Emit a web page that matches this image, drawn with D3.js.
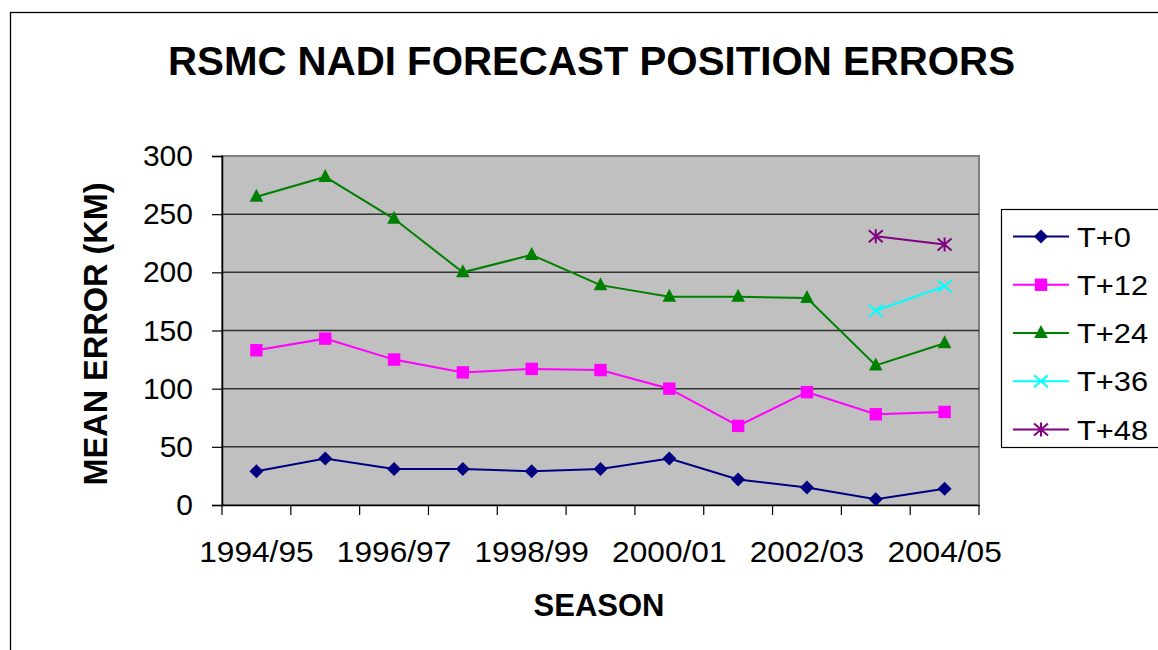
<!DOCTYPE html>
<html>
<head>
<meta charset="utf-8">
<script src="https://cdn.jsdelivr.net/npm/d3@7"></script>
<style>
  html, body { margin: 0; padding: 0; background: #fff; }
  svg { display: block; font-family: "Liberation Sans", Arial, sans-serif; }
</style>
</head>
<body>
<svg id="chart" width="1158" height="650"></svg>
<script>
const seasons = ["1994/95","1995/96","1996/97","1997/98","1998/99","1999/00","2000/01","2001/02","2002/03","2003/04","2004/05"];
const seriesNames = ["T+0","T+12","T+24","T+36","T+48"];
const t0  = [29, 40, 31, 31, 29, 31, 40, 22, 15, 5, 14];
const t12 = [133, 143, 125, 114, 117, 116, 100, 68, 97, 78, 80];
const t24 = [265, 282, 246, 200, 215, 189, 179, 179, 178, 120, 139];
const t36 = [null, null, null, null, null, null, null, null, null, 167, 188];
const t48 = [null, null, null, null, null, null, null, null, null, 231, 224];
const yTicks = [0, 50, 100, 150, 200, 250, 300];

const seriesValues = [t0, t12, t24, t36, t48];
const colors = ["#000080", "#FF00FF", "#008000", "#00FFFF", "#800080"];
const markers = ["diamond", "square", "triangle", "x", "star"];

const svg = d3.select("#chart");
const W = 1158, H = 650;
const plot = {left: 222, right: 979, top: 156, bottom: 505};

// outer chart border
svg.append("rect").attr("x", 10.5).attr("y", 12.5).attr("width", W).attr("height", H)
  .attr("fill", "#fff").attr("stroke", "#000").attr("stroke-width", 1.3);

const x = d3.scaleBand().domain(seasons).range([plot.left, plot.right]).paddingInner(0).paddingOuter(0);
const y = d3.scaleLinear().domain([0, 300]).range([plot.bottom, plot.top]);

// plot background
svg.append("rect").attr("x", plot.left).attr("y", plot.top)
  .attr("width", plot.right - plot.left).attr("height", plot.bottom - plot.top)
  .attr("fill", "#C0C0C0").attr("stroke", "#808080").attr("stroke-width", 2);

// gridlines
svg.append("g").selectAll("line").data(yTicks.filter(d => d > 0 && d < 300)).join("line")
  .attr("x1", plot.left).attr("x2", plot.right)
  .attr("y1", d => y(d)).attr("y2", d => y(d))
  .attr("stroke", "#333").attr("stroke-width", 1.5);

// y axis
const yAxis = svg.append("g").attr("transform", `translate(${plot.left},0)`)
  .call(d3.axisLeft(y).tickValues(yTicks).tickSize(10).tickPadding(19).tickFormat(d3.format("d")));
yAxis.select(".domain").attr("stroke", "#000").attr("stroke-width", 1.5);
yAxis.selectAll(".tick line").attr("stroke", "#000").attr("stroke-width", 1.2);
yAxis.selectAll("text").attr("font-size", 30).attr("fill", "#000").attr("font-family", "Liberation Sans, Arial, sans-serif");

// x axis
const xAxis = svg.append("g").attr("transform", `translate(0,${plot.bottom})`)
  .call(d3.axisBottom(x).tickSize(0).tickPadding(0).tickFormat((d, i) => i % 2 === 0 ? d : ""));
xAxis.select(".domain").attr("stroke", "#000").attr("stroke-width", 1.5);
xAxis.selectAll("text").attr("font-size", 30).attr("fill", "#000")
  .attr("font-family", "Liberation Sans, Arial, sans-serif").attr("dy", 0).attr("y", 56.5)
  .each(function() { const n = this.getComputedTextLength(); if (n > 0) d3.select(this).attr("textLength", n * 1.055).attr("lengthAdjust", "spacingAndGlyphs"); });
const bounds = seasons.map(d => x(d)).concat([plot.right]);
svg.append("g").selectAll("line").data(bounds).join("line")
  .attr("x1", d => d).attr("x2", d => d).attr("y1", plot.bottom).attr("y2", plot.bottom + 10)
  .attr("stroke", "#000").attr("stroke-width", 1.2);

// marker drawing
function drawMarker(g, type, color, cx, cy) {
  if (type === "diamond") {
    g.append("path").attr("d", `M${cx},${cy-7}L${cx+7},${cy}L${cx},${cy+7}L${cx-7},${cy}Z`).attr("fill", color);
  } else if (type === "square") {
    g.append("rect").attr("x", cx - 6.2).attr("y", cy - 6.2).attr("width", 12.4).attr("height", 12.4).attr("fill", color);
  } else if (type === "triangle") {
    g.append("path").attr("d", `M${cx},${cy-8}L${cx+6.8},${cy+5}L${cx-6.8},${cy+5}Z`).attr("fill", color);
  } else if (type === "x") {
    g.append("path").attr("d", `M${cx-7},${cy-6}L${cx+7},${cy+6}M${cx-7},${cy+6}L${cx+7},${cy-6}`)
      .attr("stroke", color).attr("stroke-width", 2).attr("fill", "none");
  } else if (type === "star") {
    g.append("path").attr("d", `M${cx-7},${cy-6}L${cx+7},${cy+6}M${cx-7},${cy+6}L${cx+7},${cy-6}M${cx},${cy-7}L${cx},${cy+7}`)
      .attr("stroke", color).attr("stroke-width", 2).attr("fill", "none");
  }
}

const cx = d => x(d) + x.bandwidth() / 2;
const line = d3.line().defined(d => d.v != null).x(d => cx(d.s)).y(d => y(d.v));

seriesValues.forEach((vals, si) => {
  const data = seasons.map((s, i) => ({s, v: vals[i]}));
  const g = svg.append("g");
  g.append("path").datum(data).attr("d", line).attr("fill", "none")
    .attr("stroke", colors[si]).attr("stroke-width", 2);
  data.filter(d => d.v != null).forEach(d => drawMarker(g, markers[si], colors[si], cx(d.s), y(d.v)));
});

// title
svg.append("text").attr("x", 591.5).attr("y", 75).attr("text-anchor", "middle")
  .attr("font-size", 40).attr("font-weight", "bold").attr("fill", "#000")
  .attr("textLength", 847).attr("lengthAdjust", "spacingAndGlyphs")
  .text("RSMC NADI FORECAST POSITION ERRORS");

// axis titles
svg.append("text").attr("transform", "translate(107,334) rotate(-90)").attr("text-anchor", "middle")
  .attr("font-size", 33).attr("font-weight", "bold").attr("fill", "#000")
  .attr("textLength", 303).attr("lengthAdjust", "spacingAndGlyphs")
  .text("MEAN ERROR (KM)");
svg.append("text").attr("x", 599).attr("y", 616).attr("text-anchor", "middle")
  .attr("font-size", 31).attr("font-weight", "bold").attr("fill", "#000")
  .text("SEASON");

// legend
const leg = svg.append("g");
leg.append("rect").attr("x", 1001.5).attr("y", 209.5).attr("width", 200).attr("height", 238)
  .attr("fill", "#fff").attr("stroke", "#000").attr("stroke-width", 1.2);
const legY = d3.scalePoint().domain(seriesNames).range([236.5, 429.5]);
seriesNames.forEach((name, i) => {
  const ly = legY(name);
  leg.append("line").attr("x1", 1013).attr("x2", 1069).attr("y1", ly).attr("y2", ly)
    .attr("stroke", colors[i]).attr("stroke-width", 2);
  drawMarker(leg, markers[i], colors[i], 1041, ly);
  leg.append("text").attr("x", 1077).attr("y", ly + 10).attr("font-size", 28).attr("fill", "#000")
    .text(name)
    .each(function() { const n = this.getComputedTextLength(); d3.select(this).attr("textLength", n * 1.1).attr("lengthAdjust", "spacingAndGlyphs"); });
});
</script>
</body>
</html>
